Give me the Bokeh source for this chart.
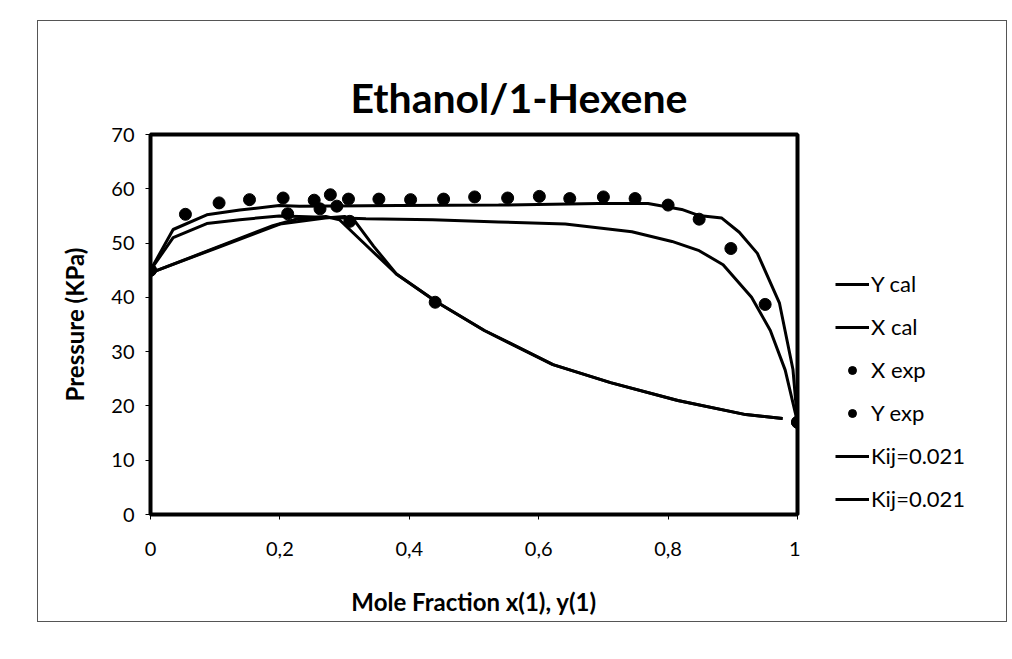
from bokeh.plotting import figure
from bokeh.models import Legend, LegendItem, FixedTicker, Range1d
from bokeh.layouts import row
from bokeh.embed import file_html
from bokeh.resources import INLINE

# ---- data ----
# Kij=0.021 bubble curve (upper)
xa = [0.0, 0.035, 0.087, 0.138, 0.199, 0.23, 0.384, 0.538, 0.692, 0.769, 0.821, 0.847, 0.883, 0.91, 0.938, 0.972, 0.993, 1.0]
pa = [45.0, 52.5, 55.2, 56.1, 56.9, 56.8, 56.9, 57.0, 57.3, 57.3, 56.2, 55.1, 54.6, 52.0, 48.1, 39.0, 26.7, 17.0]
# X cal (lower bubble curve)
xb = [0.0, 0.035, 0.087, 0.138, 0.199, 0.23, 0.333, 0.436, 0.538, 0.641, 0.744, 0.806, 0.848, 0.885, 0.929, 0.958, 0.981, 1.0]
pb = [45.0, 51.0, 53.6, 54.3, 55.0, 54.9, 54.5, 54.3, 53.9, 53.5, 52.1, 50.3, 48.6, 46.0, 40.0, 33.9, 26.6, 17.0]
# Y cal (dew curve)
xc = [0.0, 0.087, 0.189, 0.225, 0.271, 0.292, 0.328, 0.38, 0.443, 0.516, 0.622, 0.711, 0.815, 0.92, 0.977]
pc = [44.5, 48.5, 53.2, 54.4, 54.9, 54.3, 50.2, 44.3, 39.1, 33.9, 27.6, 24.3, 21.0, 18.4, 17.7]
# Kij=0.021 dew curve
xd = [0.0, 0.1, 0.2, 0.27, 0.3, 0.315, 0.345, 0.38, 0.443, 0.516, 0.622, 0.711, 0.815, 0.92, 0.977]
pd = [44.5, 49.0, 53.5, 54.6, 54.9, 54.2, 49.4, 44.3, 39.1, 33.9, 27.6, 24.3, 21.0, 18.4, 17.7]
# experimental
x_xexp = [0.0, 0.054, 0.106, 0.153, 0.205, 0.253, 0.278, 0.306, 0.353, 0.402, 0.453, 0.501, 0.552, 0.601, 0.648, 0.70, 0.749, 0.80, 0.848, 0.897, 0.95, 1.0]
p_xexp = [45.0, 55.3, 57.4, 58.0, 58.3, 57.9, 58.9, 58.1, 58.1, 58.0, 58.1, 58.5, 58.3, 58.6, 58.2, 58.5, 58.2, 57.0, 54.4, 49.0, 38.7, 17.0]
x_yexp = [0.0, 0.212, 0.262, 0.288, 0.308, 0.44, 1.0]
p_yexp = [45.0, 55.4, 56.3, 56.8, 54.0, 39.1, 17.0]

x_ticks = [0, 0.2, 0.4, 0.6, 0.8, 1]
x_tick_labels = ["0", "0,2", "0,4", "0,6", "0,8", "1"]
y_ticks = [0, 10, 20, 30, 40, 50, 60, 70]
legend_labels = ["Y cal", "X cal", "X exp", "Y exp", "Kij=0.021", "Kij=0.021"]

FONT = "Lato"
NAN = float("nan")

p = figure(width=762, height=600, output_backend="svg", toolbar_location=None,
           x_range=Range1d(0, 1), y_range=Range1d(0, 70),
           min_border_left=112, min_border_top=113, min_border_right=3, min_border_bottom=107,
           title="Ethanol/1-Hexene")

p.title.align = "left"
p.title.offset = 200
p.title.text_font = FONT
p.title.text_font_size = "41px"
p.title.text_font_style = "bold"
p.title.text_color = "black"
p.title.standoff = 25

p.grid.visible = False
p.outline_line_color = "black"
p.outline_line_width = 4
p.background_fill_color = "white"
p.border_fill_color = "white"

p.xaxis.ticker = FixedTicker(ticks=x_ticks)
p.xaxis.major_label_overrides = {t: l for t, l in zip(x_ticks, x_tick_labels)}
p.yaxis.ticker = FixedTicker(ticks=y_ticks)
for ax in (p.xaxis, p.yaxis):
    ax.axis_line_color = None
    ax.major_tick_line_color = "black"
    ax.major_tick_out = 5
    ax.major_tick_in = 0
    ax.minor_tick_line_color = None
    ax.major_label_text_font = FONT
    ax.major_label_text_font_size = "20px"
    ax.major_label_text_color = "black"
    ax.axis_label_text_font = FONT
    ax.axis_label_text_font_style = "bold"
    ax.axis_label_text_color = "black"
p.xaxis.axis_label_text_font_size = "24px"
p.yaxis.axis_label_text_font_size = "24px"
p.xaxis.major_label_standoff = 22
p.yaxis.major_label_standoff = 11
p.xaxis.axis_label = "Mole Fraction x(1), y(1)"
p.yaxis.axis_label = "Pressure (KPa)"
p.xaxis.axis_label_standoff = 28
p.yaxis.axis_label_standoff = 19

p.line(xc, pc, line_color="black", line_width=3)
p.line(xb, pb, line_color="black", line_width=3)
p.scatter(x_xexp, p_xexp, size=12, color="black")
p.scatter(x_yexp, p_yexp, size=12, color="black")
p.line(xa, pa, line_color="black", line_width=3)
p.line(xd, pd, line_color="black", line_width=3)

# legend panel (separate figure, legend proxies hold only NaN so nothing is drawn)
q = figure(width=206, height=600, output_backend="svg", toolbar_location=None,
           x_axis_location=None, y_axis_location=None,
           x_range=Range1d(0, 1), y_range=Range1d(0, 1),
           min_border_left=0, min_border_right=0, min_border_top=0, min_border_bottom=0)
q.grid.visible = False
q.outline_line_color = None
q.border_fill_color = "white"
q.background_fill_color = "white"
kinds = ["line", "line", "dot", "dot", "line", "line"]
items = []
for lab, kind in zip(legend_labels, kinds):
    if kind == "line":
        r = q.line([NAN], [NAN], line_color="black", line_width=3)
    else:
        r = q.scatter([NAN], [NAN], size=13, color="black")
    items.append(LegendItem(label=lab, renderers=[r]))

legend = Legend(items=items, location=(35, 2))
legend.background_fill_alpha = 0
legend.border_line_color = None
legend.label_text_font = FONT
legend.label_text_font_size = "22px"
legend.label_text_color = "black"
legend.glyph_width = 34
legend.label_standoff = 2
legend.spacing = 16
legend.padding = 0
legend.margin = 0
q.add_layout(legend)

lay = row(p, q, spacing=0)
lay.styles = {"border": "1px solid #555", "margin-left": "37px", "margin-top": "20px"}

open("out.html", "w").write(file_html(lay, INLINE))
